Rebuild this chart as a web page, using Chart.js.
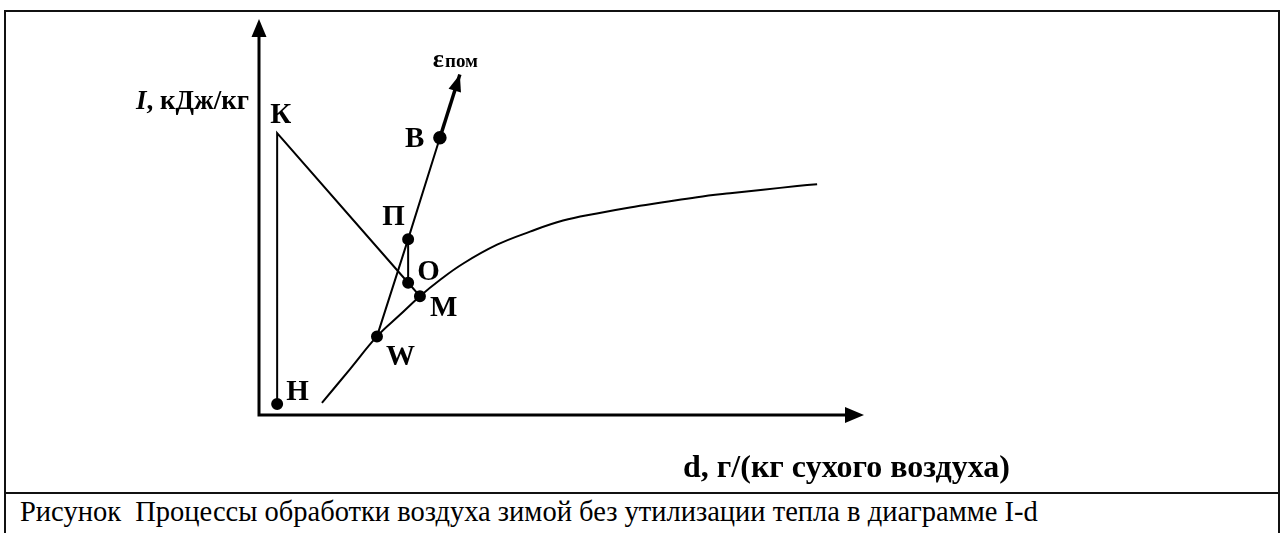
<!DOCTYPE html>
<html>
<head>
<meta charset="utf-8">
<script src="https://cdn.jsdelivr.net/npm/chart.js@4.4.1/dist/chart.umd.min.js"></script>
<style>
  html, body { margin: 0; padding: 0; background: #fff; }
  body { width: 1285px; height: 533px; position: relative; overflow: hidden; }
  #frame {
    position: absolute; left: 4px; top: 10px; width: 1276px; height: 540px;
    border: 2px solid #111; box-sizing: border-box;
  }
  #sep { position: absolute; left: 4px; top: 492px; width: 1276px; height: 2px; background: #111; }
  #caption {
    position: absolute; left: 20px; top: 496px;
    font-family: "Liberation Serif", serif; font-size: 28.5px; color: #000; line-height: 32px;
    white-space: pre;
  }
  #chart { position: absolute; left: 0; top: 0; }
</style>
</head>
<body>
<div id="frame"></div>
<div id="sep"></div>
<div id="caption">Рисунок  Процессы обработки воздуха зимой без утилизации тепла в диаграмме I-d</div>
<canvas id="chart" width="1285" height="533"></canvas>
<script>
// ==============================
// DATA (d, г/кг  -  I, кДж/кг; schematic)
// ==============================
const curveD = [2.08, 3.01, 3.90, 4.66, 5.32, 5.98, 6.74, 7.87, 8.96, 10.05, 11.17, 12.26, 13.36, 14.48, 15.57, 16.66, 17.79, 18.45];
const curveI = [3.05, 11.6, 19.85, 25.3, 30.0, 34.1, 38.2, 43.0, 46.3, 49.1, 50.9, 52.4, 53.7, 55.0, 56.0, 56.9, 57.8, 58.3];

// Н, К, О, М, П, W, В
const pointNames = ["Н", "К", "О", "М", "П", "W", "В"];
const pointD = [0.60, 0.60, 4.93, 5.32, 4.93, 3.90, 5.98];
const pointI = [2.8, 71.2, 33.4, 30.0, 44.4, 19.85, 70.0];
const epsTip = { d: 6.64, i: 86.0 };

const axisRange = { dMax: 20, iMax: 100 };
const yTitle = ["I", ", кДж/кг"];
const xTitle = "d, г/(кг сухого воздуха)";
const epsTitle = ["ε", "пом"];

// ==============================
// HELPERS
// ==============================
const pt = (name) => {
    const k = pointNames.indexOf(name);
    return { x: pointD[k], y: pointI[k] };
};
const curve = curveD.map((d, k) => ({ x: d, y: curveI[k] }));

// label offsets in px from the point (style, not data)
const labelOffset = {
    "Н": [9, -4], "К": [-7, -10], "О": [9, -3], "М": [10, 20],
    "П": [-26, -14], "W": [9, 29], "В": [-35, 9]
};

const SERIF = '"Liberation Serif", serif';

// ==============================
// PLUGINS
// ==============================
function arrowHead(ctx, x1, y1, x2, y2, len, half) {
    const a = Math.atan2(y2 - y1, x2 - x1);
    ctx.beginPath();
    ctx.moveTo(x2, y2);
    ctx.lineTo(x2 - len * Math.cos(a) + half * Math.sin(a), y2 - len * Math.sin(a) - half * Math.cos(a));
    ctx.lineTo(x2 - len * Math.cos(a) - half * Math.sin(a), y2 - len * Math.sin(a) + half * Math.cos(a));
    ctx.closePath();
    ctx.fill();
}

const axesArrows = {
    id: "axesArrows",
    beforeDatasetsDraw(chart) {
        const { ctx, chartArea, scales } = chart;
        const x0 = scales.x.getPixelForValue(0);
        const y0 = scales.y.getPixelForValue(0);
        ctx.save();
        ctx.strokeStyle = "#000";
        ctx.fillStyle = "#000";
        ctx.lineWidth = 3;
        ctx.beginPath();
        ctx.moveTo(x0, y0 + 1.5);
        ctx.lineTo(x0, chartArea.top + 14);
        ctx.moveTo(x0 - 1.5, y0);
        ctx.lineTo(chartArea.right - 16, y0);
        ctx.stroke();
        arrowHead(ctx, x0, y0, x0, chartArea.top, 18, 7.5);
        arrowHead(ctx, x0, y0, chartArea.right, y0, 19, 8);
        ctx.restore();
    }
};

const labelsPlugin = {
    id: "labelsPlugin",
    afterDatasetsDraw(chart) {
        const { ctx, scales } = chart;
        const sx = scales.x, sy = scales.y;
        ctx.save();
        ctx.fillStyle = "#000";
        ctx.textBaseline = "alphabetic";

        // ε arrow head
        const bx = sx.getPixelForValue(pt("В").x), by = sy.getPixelForValue(pt("В").y);
        const tx = sx.getPixelForValue(epsTip.d), ty = sy.getPixelForValue(epsTip.i);
        arrowHead(ctx, bx, by, tx, ty, 17, 6.5);

        // point names
        ctx.font = "bold 29px " + SERIF;
        pointNames.forEach((n, k) => {
            const off = labelOffset[n];
            ctx.fillText(n, sx.getPixelForValue(pointD[k]) + off[0], sy.getPixelForValue(pointI[k]) + off[1]);
        });

        // ε пом
        ctx.font = "bold 26px " + SERIF;
        ctx.fillText(epsTitle[0], tx - 27, ty - 7);
        const ew = ctx.measureText(epsTitle[0]).width;
        ctx.font = "bold 19px " + SERIF;
        ctx.fillText(epsTitle[1], tx - 27 + ew + 1, ty - 7);

        // axis titles
        const x0 = sx.getPixelForValue(0);
        ctx.font = "bold 27px " + SERIF;
        const restW = ctx.measureText(yTitle[1]).width;
        ctx.font = "italic bold 27px " + SERIF;
        const iW = ctx.measureText(yTitle[0]).width;
        const yx = x0 - 10 - restW - iW;
        ctx.fillText(yTitle[0], yx, 109);
        ctx.font = "bold 27px " + SERIF;
        ctx.fillText(yTitle[1], yx + iW, 109);

        ctx.font = "bold 32px " + SERIF;
        ctx.fillText(xTitle, 683, 477);
        ctx.restore();
    }
};

// ==============================
// CHART
// ==============================
const lineStyle = { showLine: true, borderColor: "#000", backgroundColor: "#000", borderWidth: 2, pointRadius: 0, clip: false };

new Chart(document.getElementById("chart"), {
    type: "scatter",
    data: {
        datasets: [
            { ...lineStyle, label: "φ = 100%", data: curve, tension: 0.4 },
            { ...lineStyle, label: "Н-К-О-М", data: [pt("Н"), pt("К"), pt("О"), pt("М")], pointRadius: [5, 0, 5, 5] },
            { ...lineStyle, label: "О-П", data: [pt("О"), pt("П")] },
            { ...lineStyle, label: "W-П-В", data: [pt("W"), pt("П"), pt("В")], pointRadius: 5 },
            { ...lineStyle, label: "ε", data: [pt("В"), { x: epsTip.d, y: epsTip.i }], borderWidth: 3.5,
              pointRadius: [5, 0] }
        ]
    },
    options: {
        responsive: false,
        animation: false,
        layout: { padding: { left: 259, top: 19, right: 1285 - 864, bottom: 533 - 415 } },
        scales: {
            x: { type: "linear", min: 0, max: axisRange.dMax, display: false },
            y: { type: "linear", min: 0, max: axisRange.iMax, display: false }
        },
        plugins: { legend: { display: false }, tooltip: { enabled: false } }
    },
    plugins: [axesArrows, labelsPlugin]
});
</script>
</body>
</html>
